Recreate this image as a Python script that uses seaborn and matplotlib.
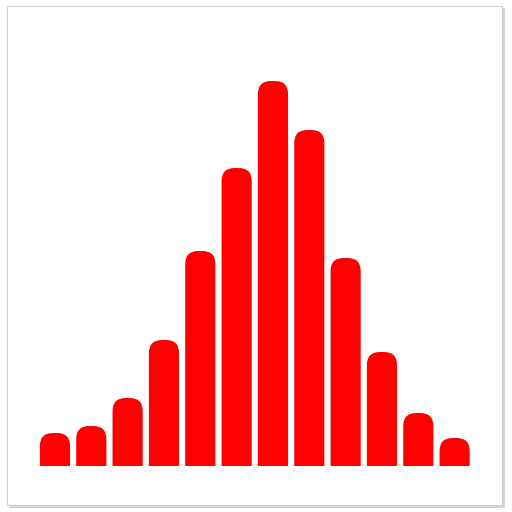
import numpy as np
import pandas as pd
import seaborn as sns
import matplotlib
matplotlib.use("Agg")
import matplotlib.pyplot as plt
from matplotlib.patches import FancyBboxPatch, Rectangle

# bin index and height of every bar
bins = list(range(1, 13))
counts = [33, 40, 68, 126, 215, 298, 385, 336, 208, 114, 53, 28]

df = pd.DataFrame({"bin": bins, "count": counts})

fig = plt.figure(figsize=(5.12, 5.12), dpi=100)
fig.patch.set_facecolor("white")

# card frame with a soft shadow (kept behind the axes)
fig.patches.append(Rectangle((9 / 512, 1 - 508 / 512), 496 / 512, 500 / 512,
                             transform=fig.transFigure, facecolor="#d6d6d6",
                             edgecolor="none", zorder=-2))
fig.patches.append(Rectangle((7 / 512, 1 - 505 / 512), 495 / 512, 499 / 512,
                             transform=fig.transFigure, facecolor="white",
                             edgecolor="#d0d0d0", linewidth=0.8, zorder=-1))

ax = fig.add_axes([36.8 / 512, 46 / 512, 436 / 512, 400 / 512])
sns.barplot(data=df, x="bin", y="count", color="red", width=0.83, ax=ax,
            saturation=1)

# swap the plain bars for ones with rounded tops
radius_x = 0.36
aspect = 36.3
for p in list(ax.patches):
    x0, w, h = p.get_x(), p.get_width(), p.get_height()
    p.remove()
    ax.add_patch(FancyBboxPatch((x0, -20), w, h + 20,
                                boxstyle=f"round,pad=0,rounding_size={radius_x}",
                                mutation_aspect=aspect, facecolor="red",
                                edgecolor="none"))

ax.set_xlim(-0.5, 11.5)
ax.set_ylim(0, 400)
ax.axis("off")

fig.savefig("out.png", dpi=100)
